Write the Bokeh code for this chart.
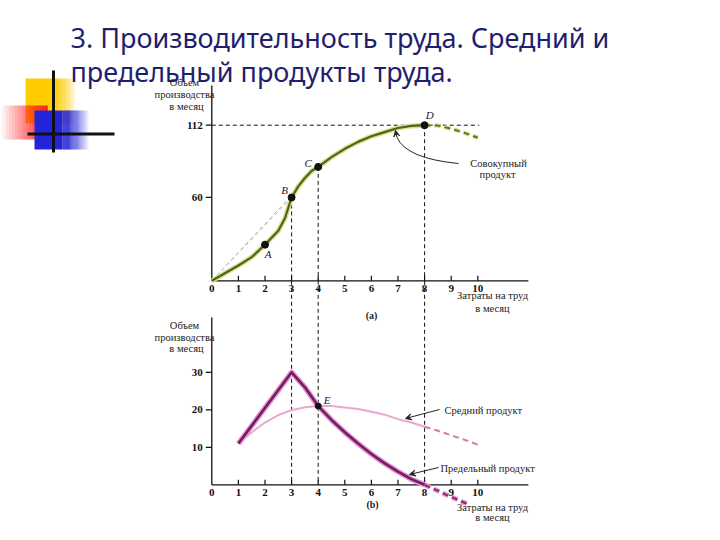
import numpy as np
from bokeh.plotting import figure
from bokeh.models import Range1d, Arrow, VeeHead
from bokeh.core.properties import value
from bokeh.embed import file_html
from bokeh.resources import INLINE

# ---------------- data ----------------
title_lines = ["3. Производительность труда. Средний и", "предельный продукты труда."]

labor_ticks = [0, 1, 2, 3, 4, 5, 6, 7, 8, 9, 10]
tp_ticks = [60, 112]
avg_marg_ticks = [10, 20, 30]

# (a) total product
tp_labor = [0, 1, 1.5, 2, 2.5, 2.75, 3, 3.25, 3.5, 3.75, 4, 4.5, 5, 5.5, 6, 6.5, 7, 7.5, 8]
tp_output = [0, 11, 17, 26, 36, 45, 60, 68, 74, 79, 82, 89, 95, 100, 104, 107, 110, 111.5, 112]
tp_labor_ext = [8, 8.5, 9, 9.5, 10]
tp_output_ext = [112, 111.7, 109.5, 106.5, 103]

pt_names = ["A", "B", "C", "D"]
pt_labor = [2, 3, 4, 8]
pt_output = [26, 60, 82, 112]

# (b) average and marginal product
ap_labor = [1, 1.5, 2, 2.5, 3, 3.5, 4, 4.5, 5, 5.5, 6, 6.5, 7, 7.5, 8]
ap_value = [11, 14, 16.6, 18.6, 19.9, 20.7, 21, 21, 20.6, 20.2, 19.5, 18.7, 17.5, 16.6, 15.5]
ap_labor_ext = [8, 8.5, 9, 9.5, 10]
ap_value_ext = [15.5, 14.4, 13.2, 12, 10.7]

mp_labor = [1, 3, 3.5, 4, 4.5, 5, 5.5, 6, 6.5, 7, 7.5, 8]
mp_value = [11, 30, 26, 21, 17.3, 14, 11, 8.2, 5.7, 3.5, 1.5, 0]
mp_labor_ext = [8, 8.8, 9.7]
mp_value_ext = [0, -2.6, -5.4]

e_labor = [4]
e_value = [21]

# ---------------- layout (slide pixels) ----------------
X0, SX = 219.3, 26.6            # labour 0 and px per unit
Y0A, SYA = 288.3, 155.6 / 112   # panel (a)
Y0B, SYB = 492.3, 3.75          # panel (b)
L, R, T, B = 8, 712, 8, 532

SERIF = value("Liberation Serif")
SANS = value("Noto Sans")

p = figure(width=704, height=524, x_range=Range1d(L, R), y_range=Range1d(B, T),
           x_axis_type=None, y_axis_type=None, toolbar_location=None,
           output_backend="svg", min_border=0, outline_line_color=None,
           background_fill_color="white", border_fill_color="white")
p.extra_x_ranges = {"lab": Range1d((L - X0) / SX, (R - X0) / SX)}
p.extra_y_ranges = {"ya": Range1d((Y0A - B) / SYA, (Y0A - T) / SYA),
                    "yb": Range1d((Y0B - B) / SYB, (Y0B - T) / SYB)}

# ---------------- decoration ----------------
def grad(x_l, x_r, y_t, y_b, color, a_l, a_r, n=30):
    xs = np.linspace(x_l, x_r, n + 1)
    al = np.linspace(a_l, a_r, n)
    p.quad(left=xs[:-1], right=xs[1:] + 0.3, top=y_t, bottom=y_b,
           fill_color=color, fill_alpha=al, line_color=None)

p.quad(left=33, right=62, top=86, bottom=131, fill_color="#FFCC00", line_color=None)
grad(62, 84, 86, 131, "#FFCC00", 1.0, 0.0)
grad(9, 55, 113, 147, "#FF1A1A", 0.03, 0.95)
p.quad(left=42, right=70, top=118, bottom=157, fill_color="#2424D8", line_color=None)
grad(70, 97, 118, 157, "#2424D8", 1.0, 0.0)
p.segment(x0=[61, 35], y0=[78, 141.5], x1=[61, 122], y1=[160, 141.5], line_color="#111111", line_width=3)

p.text(x=[78, 78], y=[45, 79], text=title_lines, text_font=SANS, text_font_size="27px",
       text_color="#1f1f6e", text_align="left", text_baseline="alphabetic")

# ---------------- axes ----------------
def axes(yname, sy, x_end, y_end, yticks):
    kw = dict(x_range_name="lab", y_range_name=yname)
    p.segment(x0=[0, 0], y0=[0, 0], x1=[x_end, 0], y1=[0, y_end], line_color="#111111", line_width=1.3, **kw)
    p.segment(x0=labor_ticks[1:], y0=0, x1=labor_ticks[1:], y1=5 / sy, line_color="#111111", line_width=1.2, **kw)
    p.segment(x0=0, y0=yticks, x1=-6 / SX, y1=yticks, line_color="#111111", line_width=1.2, **kw)
    p.text(x=labor_ticks, y=0, text=[str(t) for t in labor_ticks], y_offset=4, text_font=SERIF,
           text_font_style="bold", text_font_size="11px", text_align="center", text_baseline="top",
           text_color="#111111", **kw)
    p.text(x=0, y=yticks, text=[str(t) for t in yticks], x_offset=-9, text_font=SERIF,
           text_font_style="bold", text_font_size="11px", text_align="right", text_baseline="middle",
           text_color="#111111", **kw)

axes("ya", SYA, 11.9, 140.6, tp_ticks)
axes("yb", SYB, 11.9, 44.6, avg_marg_ticks)

# axis titles
p.text(x=[192, 192, 194, 192, 192, 194], y=[90, 102, 114, 333, 345, 356],
       text=["Объем", "производства", "в месяц", "Объем", "производства", "в месяц"],
       text_font=SERIF, text_font_size="10.5px", text_align="center", text_baseline="middle", text_color="#222222")
p.text(x=[500, 500, 500, 500], y=[303, 316, 515, 525],
       text=["Затраты на труд", "в месяц", "Затраты на труд", "в месяц"],
       text_font=SERIF, text_font_size="10.5px", text_align="center", text_baseline="middle", text_color="#222222")
p.text(x=[379, 380], y=[323, 512], text=["(a)", "(b)"], text_font=SERIF, text_font_style="bold",
       text_font_size="10px", text_align="center", text_baseline="middle", text_color="#222222")

# ---------------- panel (a) ----------------
ka = dict(x_range_name="lab", y_range_name="ya")
kb = dict(x_range_name="lab", y_range_name="yb")

# rays from origin
ray_k = [1.1, 1.07]
p.segment(x0=0, y0=0, x1=[pt_labor[1] * ray_k[0], pt_labor[2] * ray_k[1]],
          y1=[pt_output[1] * ray_k[0], pt_output[2] * ray_k[1]],
          line_color="#b8b8c0", line_width=1, line_dash="4 3", **ka)

# dashed guides
p.segment(x0=0, y0=pt_output[3], x1=10.05, y1=pt_output[3], line_color="#111111", line_width=1, line_dash="4 3", **ka)
p.segment(x0=pt_labor[1:], y0=pt_output[1:], x1=pt_labor[1:], y1=0, line_color="#111111", line_width=1, line_dash="4 3", **ka)
p.segment(x0=pt_labor[1:], y0=(Y0B - Y0A) / SYB, x1=pt_labor[1:], y1=0, line_color="#111111", line_width=1, line_dash="4 3", **kb)

p.line(tp_labor, tp_output, line_color="#d6e48c", line_width=5, line_join="round", **ka)
p.line(tp_labor, tp_output, line_color="#4d6320", line_width=2.2, line_join="round", **ka)
p.line(tp_labor_ext, tp_output_ext, line_color="#d6e48c", line_width=4.5, line_dash="6 4", **ka)
p.line(tp_labor_ext, tp_output_ext, line_color="#5e7526", line_width=2, line_dash="6 4", **ka)

p.scatter(pt_labor, pt_output, size=7, marker="circle", fill_color="#111111", line_color="#111111", **ka)
p.text(x=pt_labor, y=pt_output, text=pt_names, x_offset=[3, -7, -10, 5], y_offset=[9, -7, -4, -10],
       text_font=SERIF, text_font_style="italic", text_font_size="11px", text_align="center",
       text_baseline="middle", text_color="#222222", **ka)

p.text(x=[506, 505], y=[171, 182], text=["Совокупный", "продукт"], text_font=SERIF, text_font_size="10.5px",
       text_align="center", text_baseline="middle", text_color="#222222")
p.quadratic(x0=466, y0=171, x1=404.5, y1=145, cx=414, cy=166, line_color="#222222", line_width=1)
p.add_layout(Arrow(end=VeeHead(size=6, fill_color="#222222", line_color="#222222", line_width=1),
                   x_start=404.5, y_start=145, x_end=403, y_end=138, line_color="#222222", line_width=1))

# ---------------- panel (b) ----------------
p.line(ap_labor, ap_value, line_color="#e8a8cf", line_width=2, **kb)
p.line(ap_labor_ext, ap_value_ext, line_color="#d27aae", line_width=2, line_dash="6 4", **kb)

p.line(mp_labor, mp_value, line_color="#ea8fd2", line_width=5.5, line_join="round", **kb)
p.line(mp_labor, mp_value, line_color="#6f1f5f", line_width=2.6, line_join="round", **kb)
p.line(mp_labor_ext, mp_value_ext, line_color="#ea8fd2", line_width=5, line_dash="6 4", **kb)
p.line(mp_labor_ext, mp_value_ext, line_color="#7d2a6c", line_width=2, line_dash="6 4", **kb)

p.scatter(e_labor, e_value, size=6, marker="circle", fill_color="#111111", line_color="#111111", **kb)
p.text(x=e_labor, y=e_value, text=["E"], x_offset=9, y_offset=-6, text_font=SERIF, text_font_style="italic",
       text_font_size="11px", text_align="center", text_baseline="middle", text_color="#222222", **kb)

p.text(x=[452, 448], y=[418, 476], text=["Средний продукт", "Предельный продукт"], text_font=SERIF,
       text_font_size="10.5px", text_align="left", text_baseline="middle", text_color="#222222")
for xs, ys, xe, ye in [(447, 417, 413, 426), (446, 475, 417, 482)]:
    p.add_layout(Arrow(end=VeeHead(size=6, fill_color="#222222", line_color="#222222", line_width=1),
                       x_start=xs, y_start=ys, x_end=xe, y_end=ye, line_color="#222222", line_width=1))

open("out.html", "w").write(file_html(p, INLINE))
